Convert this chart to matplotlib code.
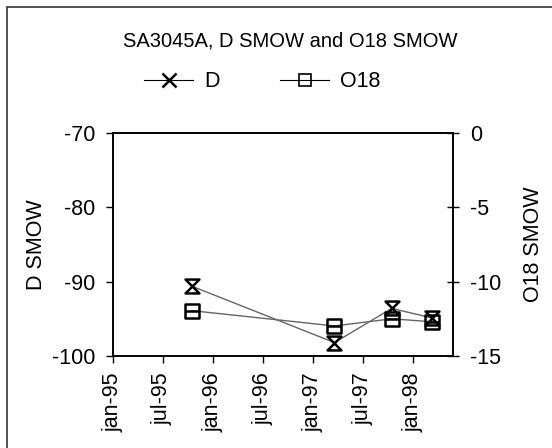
import datetime as dt
import matplotlib
matplotlib.use("Agg")
import matplotlib.pyplot as plt
from matplotlib.path import Path
from matplotlib.lines import Line2D
from matplotlib.patches import Rectangle

plt.rcParams["font.family"] = ["Liberation Sans", "DejaVu Sans"]
plt.rcParams["axes.unicode_minus"] = False

# sampling dates and values
dates = [dt.date(1995, 10, 15), dt.date(1997, 3, 20), dt.date(1997, 10, 15), dt.date(1998, 3, 13)]
d_smow = [-90.6, -98.2, -93.6, -94.9]
o18_smow = [-11.95, -12.98, -12.5, -12.7]

tick_dates = [dt.date(1995, 1, 1), dt.date(1995, 7, 1), dt.date(1996, 1, 1), dt.date(1996, 7, 1),
              dt.date(1997, 1, 1), dt.date(1997, 7, 1), dt.date(1998, 1, 1)]
tick_labels = ["jan-95", "jul-95", "jan-96", "jul-96", "jan-97", "jul-97", "jan-98"]

# markers like the old Excel ones
hourglass = Path([(-1, -1), (1, 1), (-1, 1), (1, -1), (-1, -1)],
                 [Path.MOVETO, Path.LINETO, Path.LINETO, Path.LINETO, Path.CLOSEPOLY])
sq_bar = Path([(-1, -1), (1, -1), (1, 1), (-1, 1), (-1, -1), (-1, 0), (1, 0)],
              [Path.MOVETO, Path.LINETO, Path.LINETO, Path.LINETO, Path.CLOSEPOLY, Path.MOVETO, Path.LINETO])

fs = 15.5

fig = plt.figure(figsize=(5.52, 4.48), dpi=100)
ax = fig.add_axes([0.2047, 0.2054, 0.616, 0.4978])
ax2 = ax.twinx()

ax.plot(dates, d_smow, color="#666666", lw=1, marker=hourglass, ms=10,
        mfc="none", mec="black", mew=1.8, zorder=3)
ax2.plot(dates, o18_smow, color="#666666", lw=1, marker=sq_bar, ms=10,
         mfc="none", mec="black", mew=1.8, zorder=3)

ax.set_xlim(dt.date(1995, 1, 1), dt.date(1998, 5, 27))
ax.set_xticks(tick_dates)
ax.set_xticklabels(tick_labels, rotation=90, fontsize=fs)
ax.set_ylim(-100, -70)
ax.set_yticks([-100, -90, -80, -70])
ax2.set_ylim(-15, 0)
ax2.set_yticks([-15, -10, -5, 0])

ax.tick_params(axis="y", labelsize=fs, direction="out", length=5, width=1, pad=8)
ax.tick_params(axis="x", direction="out", length=5, width=1, pad=7)
ax2.tick_params(axis="y", labelsize=fs, direction="inout", length=8, width=1, pad=8)

ax.set_ylabel("D SMOW", fontsize=fs, labelpad=3)
ax2.set_ylabel("O18 SMOW", fontsize=fs, labelpad=16)

for a in (ax, ax2):
    for s in a.spines.values():
        s.set_linewidth(1.2)

fig.text(0.525, 0.909, "SA3045A, D SMOW and O18 SMOW", ha="center", va="center", fontsize=14.5)

handles = [Line2D([], [], color="black", lw=0.8, marker="x", ms=10, mew=1.8),
           Line2D([], [], color="black", lw=0.8, marker="s", ms=8, mfc="none", mew=1.2)]
fig.legend(handles, ["D", "O18"], loc="center", bbox_to_anchor=(0.475, 0.818), ncol=2,
           frameon=False, fontsize=fs, handlelength=2.3, columnspacing=2.8, handletextpad=0.5)

# outer chart frame (only top and left edges fall inside the picture)
fig.add_artist(Rectangle((7 / 552, -0.1), 1.2, 1.1 - 7 / 448, transform=fig.transFigure,
                         fill=False, lw=1.2, ec="#333333"))

fig.savefig("out.png", dpi=100)
